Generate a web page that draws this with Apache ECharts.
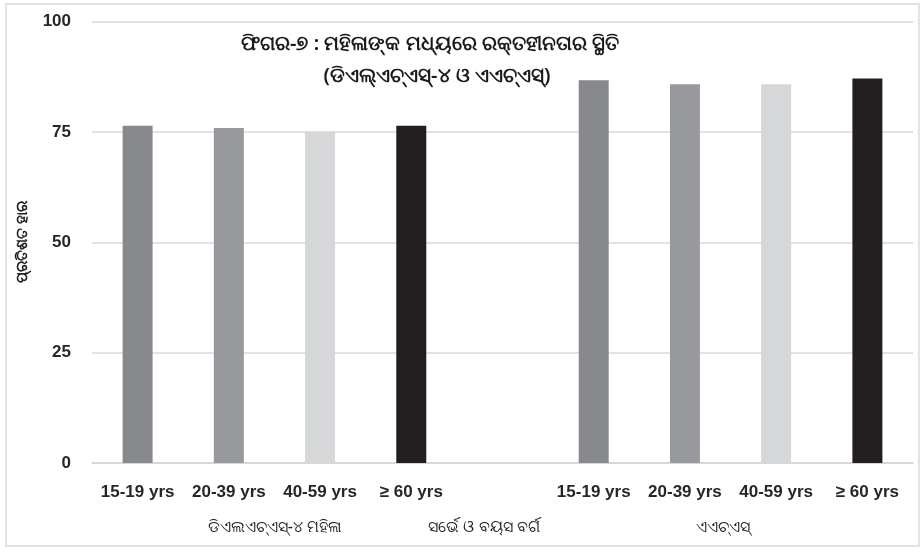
<!DOCTYPE html>
<html>
<head>
<meta charset="utf-8">
<script src="https://cdn.jsdelivr.net/npm/echarts@6/dist/echarts.min.js"></script>
<style>
  html, body { margin: 0; padding: 0; background: #fff; }
  #chart { width: 922px; height: 552px; }
</style>
</head>
<body>
<div id="chart"></div>
<script>
// age groups shown under each survey
const ageGroups = ['15-19 yrs', '20-39 yrs', '40-59 yrs', '≥ 60 yrs']
// anaemia among women (%)
const nfhsValues = [76.4, 75.9, 75.0, 76.4]
const ahsValues = [86.7, 85.8, 85.8, 87.1]
const yTicks = [0, 25, 50, 75, 100]
const ageColors = ['#88898d', '#98999d', '#d6d7d9', '#231f20']

const titleLines = ['ଫିଗର-୭ : ମହିଳାଙ୍କ ମଧ୍ୟରେ ରକ୍ତହୀନତାର ସ୍ଥିତି', '(ଡିଏଲ୍ଏଚ୍ଏସ୍-୪ ଓ ଏଏଚ୍ଏସ୍)']
const yName = 'ପ୍ରତିଶତ ହାର'
const groupNames = ['ଡିଏଲଏଚ୍ଏସ୍-୪ ମହିଳା', 'ସର୍ଭେ ଓ ବୟସ ବର୍ଗ', 'ଏଏଚ୍ଏସ୍']

// two survey groups with one empty slot between them
const categories = [...ageGroups, '', ...ageGroups]
const barData = [
    ...nfhsValues.map((v, i) => ({ value: v, itemStyle: { color: ageColors[i] } })),
    '-',
    ...ahsValues.map((v, i) => ({ value: v, itemStyle: { color: ageColors[i] } }))
]

const odiaFont = "'Noto Sans', 'DejaVu Sans', sans-serif"
const labelFont = "'Liberation Sans Narrow', 'Liberation Sans', sans-serif"

const myChart = echarts.init(document.getElementById('chart'))
myChart.setOption({
    animation: false,
    grid: { left: 92, right: 9, top: 21.5, bottom: 89 },
    xAxis: {
        type: 'category',
        data: categories,
        axisTick: { show: false },
        axisLine: { lineStyle: { color: '#d4d4d4', width: 1.5 } },
        axisLabel: {
            interval: 0,
            margin: 21,
            color: '#262626',
            fontWeight: 'bold',
            fontSize: 17,
            fontFamily: labelFont
        }
    },
    yAxis: {
        type: 'value',
        min: yTicks[0],
        max: yTicks[yTicks.length - 1],
        interval: 25,
        name: yName,
        nameLocation: 'middle',
        nameRotate: 90,
        nameGap: 62,
        nameTextStyle: { fontSize: 15, color: '#222', fontWeight: 600, fontFamily: odiaFont },
        axisLine: { show: false },
        axisTick: { show: false },
        splitLine: { lineStyle: { color: '#d9d9d9', width: 1.5 } },
        axisLabel: {
            margin: 21,
            color: '#262626',
            fontWeight: 'bold',
            fontSize: 17,
            fontFamily: labelFont
        }
    },
    series: [
        {
            type: 'bar',
            barWidth: 30,
            data: barData
        }
    ],
    graphic: [
        {
            type: 'rect',
            shape: { x: 6, y: 4, width: 913, height: 542 },
            style: { fill: 'none', stroke: '#d9d9d9', lineWidth: 1.5 },
            silent: true
        },
        {
            type: 'text', x: 430, y: 44,
            style: { text: titleLines[0], fill: '#1a1a1a', font: "600 20px " + odiaFont, textAlign: 'center', textVerticalAlign: 'middle' }
        },
        {
            type: 'text', x: 437, y: 76,
            style: { text: titleLines[1], fill: '#1a1a1a', font: "600 20px " + odiaFont, textAlign: 'center', textVerticalAlign: 'middle' }
        },
        {
            type: 'text', x: 275, y: 527,
            style: { text: groupNames[0], fill: '#1a1a1a', font: "16px " + odiaFont, textAlign: 'center', textVerticalAlign: 'middle' }
        },
        {
            type: 'text', x: 484, y: 527,
            style: { text: groupNames[1], fill: '#1a1a1a', font: "16px " + odiaFont, textAlign: 'center', textVerticalAlign: 'middle' }
        },
        {
            type: 'text', x: 723, y: 527,
            style: { text: groupNames[2], fill: '#1a1a1a', font: "16px " + odiaFont, textAlign: 'center', textVerticalAlign: 'middle' }
        }
    ]
})
</script>
</body>
</html>
